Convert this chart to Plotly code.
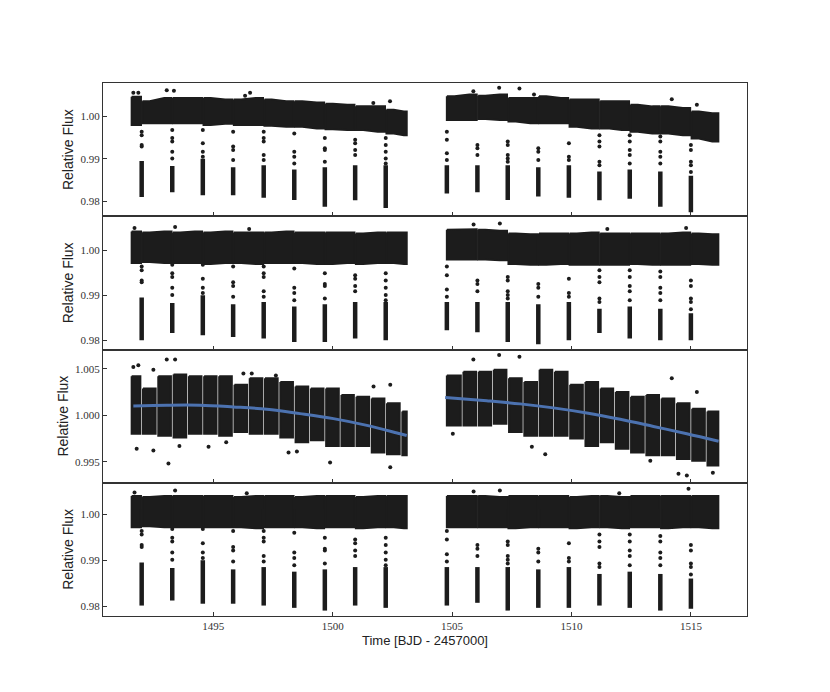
import plotly.graph_objects as go
from plotly.subplots import make_subplots

# ---- values ----
# segment edges of the light curve (orbit 1, orbit 2): transit and half-phase times
edges_orbit1 = [1491.58, 1492.00, 1492.64, 1493.28, 1493.92, 1494.56, 1495.19, 1495.83, 1496.47,
                1497.11, 1497.75, 1498.39, 1499.03, 1499.67, 1500.31, 1500.94, 1501.58, 1502.22,
                1502.86, 1503.10]
edges_orbit2 = [1504.78, 1505.42, 1506.06, 1506.69, 1507.33, 1507.97, 1508.61, 1509.25, 1509.89,
                1510.53, 1511.17, 1511.80, 1512.44, 1513.08, 1513.72, 1514.36, 1515.00, 1515.64,
                1516.15]
transit_t = [1492.00, 1493.28, 1494.56, 1495.83, 1497.11, 1498.39, 1499.67, 1500.94, 1502.22,
             1504.78, 1506.06, 1507.33, 1508.61, 1509.89, 1511.17, 1512.44, 1513.72, 1515.00]

# upper / lower envelope of the dense out-of-transit band, one value per segment
p1_top = [1.0047, 1.0036, 1.0044, 1.0044, 1.0044, 1.0044, 1.0040, 1.0040, 1.0044, 1.0040,
          1.0036, 1.0036, 1.0033, 1.0030, 1.0028, 1.0024, 1.0024, 1.0016, 1.0012,
          1.0048, 1.0052, 1.0049, 1.0052, 1.0044, 1.0044, 1.0048, 1.0044, 1.0040, 1.0040,
          1.0036, 1.0036, 1.0028, 1.0024, 1.0024, 1.0020, 1.0012, 1.0008]
p1_bot = [0.9980, 0.9984, 0.9984, 0.9984, 0.9984, 0.9980, 0.9983, 0.9980, 0.9980, 0.9978,
          0.9976, 0.9976, 0.9972, 0.9970, 0.9968, 0.9968, 0.9964, 0.9960, 0.9956,
          0.9992, 0.9992, 0.9994, 0.9992, 0.9988, 0.9984, 0.9984, 0.9984, 0.9976, 0.9972,
          0.9972, 0.9968, 0.9964, 0.9960, 0.9960, 0.9956, 0.9948, 0.9941]
p2_top = [1.0042, 1.0040, 1.0042, 1.0040, 1.0042, 1.0040, 1.0042, 1.0040, 1.0040, 1.0040,
          1.0042, 1.0040, 1.0040, 1.0040, 1.0040, 1.0038, 1.0040, 1.0040, 1.0040,
          1.0046, 1.0047, 1.0046, 1.0044, 1.0038, 1.0036, 1.0038, 1.0038, 1.0038, 1.0040,
          1.0038, 1.0038, 1.0038, 1.0038, 1.0038, 1.0040, 1.0038, 1.0036]
p2_bot = [0.9972, 0.9974, 0.9972, 0.9972, 0.9972, 0.9970, 0.9972, 0.9972, 0.9970, 0.9972,
          0.9972, 0.9972, 0.9970, 0.9970, 0.9972, 0.9970, 0.9972, 0.9972, 0.9970,
          0.9980, 0.9980, 0.9980, 0.9978, 0.9970, 0.9968, 0.9968, 0.9970, 0.9968, 0.9968,
          0.9968, 0.9968, 0.9970, 0.9968, 0.9968, 0.9968, 0.9970, 0.9968]
p3_top = [1.0042, 1.0029, 1.0042, 1.0044, 1.0042, 1.0042, 1.0042, 1.0033, 1.0040, 1.0040,
          1.0036, 1.0031, 1.0029, 1.0029, 1.0022, 1.0020, 1.0018, 1.0013, 1.0004,
          1.0043, 1.0047, 1.0047, 1.0049, 1.0040, 1.0036, 1.0049, 1.0047, 1.0033, 1.0036,
          1.0029, 1.0025, 1.0020, 1.0022, 1.0018, 1.0013, 1.0007, 1.0004]
p3_bot = [0.9980, 0.9980, 0.9978, 0.9976, 0.9980, 0.9980, 0.9978, 0.9982, 0.9980, 0.9980,
          0.9976, 0.9971, 0.9973, 0.9967, 0.9967, 0.9967, 0.9960, 0.9958, 0.9957,
          0.9989, 0.9989, 0.9989, 0.9991, 0.9982, 0.9978, 0.9978, 0.9978, 0.9975, 0.9967,
          0.9971, 0.9964, 0.9960, 0.9957, 0.9957, 0.9953, 0.9951, 0.9946]
p4_top = [1.0040, 1.0038, 1.0040, 1.0040, 1.0040, 1.0040, 1.0040, 1.0038, 1.0040, 1.0040,
          1.0040, 1.0038, 1.0040, 1.0040, 1.0040, 1.0038, 1.0040, 1.0040, 1.0040,
          1.0040, 1.0040, 1.0040, 1.0038, 1.0040, 1.0040, 1.0040, 1.0040, 1.0038, 1.0040,
          1.0040, 1.0038, 1.0040, 1.0040, 1.0040, 1.0040, 1.0040, 1.0040]
p4_bot = [0.9972, 0.9974, 0.9972, 0.9972, 0.9972, 0.9972, 0.9972, 0.9972, 0.9970, 0.9972,
          0.9972, 0.9972, 0.9970, 0.9972, 0.9972, 0.9970, 0.9972, 0.9972, 0.9970,
          0.9972, 0.9972, 0.9972, 0.9972, 0.9970, 0.9972, 0.9972, 0.9972, 0.9970, 0.9972,
          0.9972, 0.9970, 0.9972, 0.9972, 0.9970, 0.9972, 0.9972, 0.9970]

# in-transit points: deepest point per transit (panels 1, 2, 4), top of dense part, sparse ingress points
p1_depth = [0.9810, 0.9821, 0.9814, 0.9814, 0.9808, 0.9803, 0.9787, 0.9802, 0.9784,
            0.9818, 0.9821, 0.9803, 0.9811, 0.9808, 0.9802, 0.9806, 0.9787, 0.9774]
p2_depth = [0.9800, 0.9816, 0.9811, 0.9807, 0.9804, 0.9796, 0.9796, 0.9804, 0.9800,
            0.9822, 0.9818, 0.9796, 0.9791, 0.9800, 0.9816, 0.9804, 0.9800, 0.9800]
p4_depth = [0.9801, 0.9812, 0.9805, 0.9805, 0.9801, 0.9796, 0.9790, 0.9801, 0.9796,
            0.9801, 0.9807, 0.9790, 0.9796, 0.9796, 0.9801, 0.9796, 0.9790, 0.9794]
dense_top = [0.9895, 0.9883, 0.9900, 0.9880, 0.9885, 0.9875, 0.9880, 0.9885, 0.9885,
             0.9885, 0.9885, 0.9885, 0.9880, 0.9885, 0.9870, 0.9875, 0.9870, 0.9860]
ingress = [[0.9964, 0.9956, 0.9933, 0.9929],
           [0.9968, 0.9949, 0.9941, 0.9917, 0.9901],
           [0.9968, 0.9937, 0.9917, 0.9905],
           [0.9964, 0.9929, 0.9921, 0.9897],
           [0.9964, 0.9949, 0.9941, 0.9909, 0.9897],
           [0.9960, 0.9917, 0.9905, 0.9889],
           [0.9949, 0.9925, 0.9921, 0.9893],
           [0.9945, 0.9937, 0.9921, 0.9909],
           [0.9949, 0.9933, 0.9917, 0.9901, 0.9889],
           [0.9964, 0.9945, 0.9913, 0.9897],
           [0.9933, 0.9925, 0.9909],
           [0.9941, 0.9933, 0.9909, 0.9901, 0.9893],
           [0.9925, 0.9917, 0.9897],
           [0.9937, 0.9905, 0.9897],
           [0.9956, 0.9941, 0.9929, 0.9893, 0.9885],
           [0.9956, 0.9941, 0.9921, 0.9909, 0.9889],
           [0.9953, 0.9941, 0.9917, 0.9905, 0.9889],
           [0.9933, 0.9921, 0.9893, 0.9885, 0.9869]]

# isolated points outside the dense band
p1_out_t = [1491.65, 1491.86, 1493.05, 1493.35, 1496.33, 1496.54, 1501.70, 1502.40,
            1505.89, 1506.97, 1507.82, 1508.43, 1514.20, 1515.25]
p1_out_f = [1.0056, 1.0056, 1.0062, 1.0061, 1.0049, 1.0056, 1.0032, 1.0036,
            1.0060, 1.0068, 1.0066, 1.0052, 1.0041, 1.0028]
p2_out_t = [1491.70, 1493.40, 1496.50, 1505.90, 1507.00, 1511.50, 1514.80]
p2_out_f = [1.0050, 1.0052, 1.0048, 1.0058, 1.0060, 1.0048, 1.0050]
p3_out_t = [1491.65, 1491.86, 1492.49, 1493.05, 1493.40, 1496.26, 1496.61, 1497.62, 1501.71,
            1502.41, 1491.79, 1492.49, 1493.12, 1493.58, 1494.80, 1495.54, 1498.15, 1498.50,
            1499.89, 1502.41, 1505.89, 1506.97, 1507.82, 1514.20, 1515.25, 1505.03, 1508.34,
            1508.90, 1513.30, 1514.48, 1514.83, 1515.92]
p3_out_f = [1.0052, 1.0054, 1.0049, 1.0060, 1.0060, 1.0045, 1.0045, 1.0043, 1.0031,
            1.0033, 0.9964, 0.9962, 0.9948, 0.9967, 0.9966, 0.9971, 0.9960, 0.9961,
            0.9949, 0.9944, 1.0060, 1.0065, 1.0063, 1.0040, 1.0025, 0.9980, 0.9966,
            0.9958, 0.9951, 0.9937, 0.9935, 0.9938]
p4_out_t = [1491.70, 1493.40, 1496.40, 1505.90, 1507.00, 1512.00, 1514.90]
p4_out_f = [1.0048, 1.0052, 1.0046, 1.0050, 1.0052, 1.0046, 1.0056]

# smooth trend drawn over panel 3
trend1_t = [1491.65, 1493.05, 1494.44, 1495.84, 1497.24, 1498.63, 1500.03, 1501.43, 1502.82, 1503.10]
trend1_f = [1.00101, 1.00109, 1.00109, 1.00090, 1.00065, 1.00018, 0.99964, 0.99891, 0.99801, 0.99783]
trend2_t = [1504.71, 1506.45, 1507.85, 1509.24, 1510.64, 1512.04, 1513.43, 1514.83, 1516.16]
trend2_f = [1.00192, 1.00156, 1.00123, 1.00080, 1.00025, 0.99957, 0.99880, 0.99801, 0.99720]

INK = "#1c1c1c"
BLUE = "#4c72b0"
SERIF = "Liberation Serif, DejaVu Serif, serif"
SANS = "Liberation Sans, Arial, sans-serif"


def band(tops, bots, gap_all, gap):
    # one polygon per run of segments between gaps, edges passing through segment centres
    xs, ys = [], []
    k = 0
    for edges in (edges_orbit1, edges_orbit2):
        n = len(edges) - 1
        run = []
        for i in range(n):
            a, b = edges[i], edges[i + 1]
            cut_a = i > 0 and (gap_all or a in transit_t)
            cut_b = i < n - 1 and (gap_all or b in transit_t)
            if cut_a:
                a += gap / 2
            if cut_b:
                b -= gap / 2
            run.append((a, b, tops[k], bots[k]))
            k += 1
            if cut_b or i == n - 1:
                tx = [run[0][0]] + [(s[0] + s[1]) / 2 for s in run] + [run[-1][1]]
                ty = [run[0][2]] + [s[2] for s in run] + [run[-1][2]]
                by = [run[0][3]] + [s[3] for s in run] + [run[-1][3]]
                xs += tx + tx[::-1] + [tx[0], None]
                ys += ty + by[::-1] + [ty[0], None]
                run = []
    return go.Scatter(x=xs, y=ys, mode="lines", fill="toself", fillcolor=INK,
                      line=dict(color=INK, width=2), hoverinfo="skip", showlegend=False)


def transits(depth):
    cx, cy, px, py = [], [], [], []
    for t, lo, hi, pts in zip(transit_t, depth, dense_top, ingress):
        cx += [t, t, None]
        cy += [lo, hi, None]
        px += [t] * len(pts)
        py += pts
    col = go.Scatter(x=cx, y=cy, mode="lines", line=dict(color=INK, width=4.5),
                     hoverinfo="skip", showlegend=False)
    dots = go.Scatter(x=px, y=py, mode="markers", marker=dict(color=INK, size=4),
                      hoverinfo="skip", showlegend=False)
    return [col, dots]


def outliers(t, f):
    return go.Scatter(x=t, y=f, mode="markers", marker=dict(color=INK, size=4),
                      hoverinfo="skip", showlegend=False)


fig = make_subplots(rows=4, cols=1, shared_xaxes=True, vertical_spacing=0)

fig.add_trace(band(p1_top, p1_bot, False, 0.06), row=1, col=1)
for tr in transits(p1_depth):
    fig.add_trace(tr, row=1, col=1)
fig.add_trace(outliers(p1_out_t, p1_out_f), row=1, col=1)

fig.add_trace(band(p2_top, p2_bot, False, 0.06), row=2, col=1)
for tr in transits(p2_depth):
    fig.add_trace(tr, row=2, col=1)
fig.add_trace(outliers(p2_out_t, p2_out_f), row=2, col=1)

fig.add_trace(band(p3_top, p3_bot, True, 0.11), row=3, col=1)
fig.add_trace(outliers(p3_out_t, p3_out_f), row=3, col=1)
for tt, tf in ((trend1_t, trend1_f), (trend2_t, trend2_f)):
    fig.add_trace(go.Scatter(x=tt, y=tf, mode="lines", line=dict(color=BLUE, width=3, shape="spline"),
                             hoverinfo="skip", showlegend=False), row=3, col=1)

fig.add_trace(band(p4_top, p4_bot, False, 0.06), row=4, col=1)
for tr in transits(p4_depth):
    fig.add_trace(tr, row=4, col=1)
fig.add_trace(outliers(p4_out_t, p4_out_f), row=4, col=1)

axis_common = dict(showline=True, mirror=True, linecolor="#333333", linewidth=1,
                   ticks="inside", ticklen=4, tickwidth=1, tickcolor="#333333",
                   showgrid=False, zeroline=False,
                   tickfont=dict(family=SERIF, size=11, color="#333333"))

fig.update_xaxes(range=[1490.38, 1517.35], tickvals=[1495, 1500, 1505, 1510, 1515], **axis_common)
fig.update_xaxes(title=dict(text="Time [BJD - 2457000]", standoff=4,
                            font=dict(family=SANS, size=13, color="#222222")),
                 row=4, col=1)

yranges = [[0.97644, 1.00792], [0.97793, 1.00762], [0.99273, 1.00709], [0.97782, 1.00691]]
for r, yr in enumerate(yranges, start=1):
    if r == 3:
        ticks = dict(tickvals=[0.995, 1.000, 1.005], tickformat=".3f")
    else:
        ticks = dict(tickvals=[0.98, 0.99, 1.00], tickformat=".2f")
    fig.update_yaxes(range=yr, title=dict(text="Relative Flux", standoff=3,
                                          font=dict(family=SANS, size=14, color="#222222")),
                     row=r, col=1, **ticks, **axis_common)

# page body adds an 8 px margin, so the figure is 8 px smaller on each axis
fig.update_layout(width=822, height=684, paper_bgcolor="white", plot_bgcolor="white",
                  margin=dict(l=95, r=83, t=75, b=76), showlegend=False)

fig.write_html("out.html")
